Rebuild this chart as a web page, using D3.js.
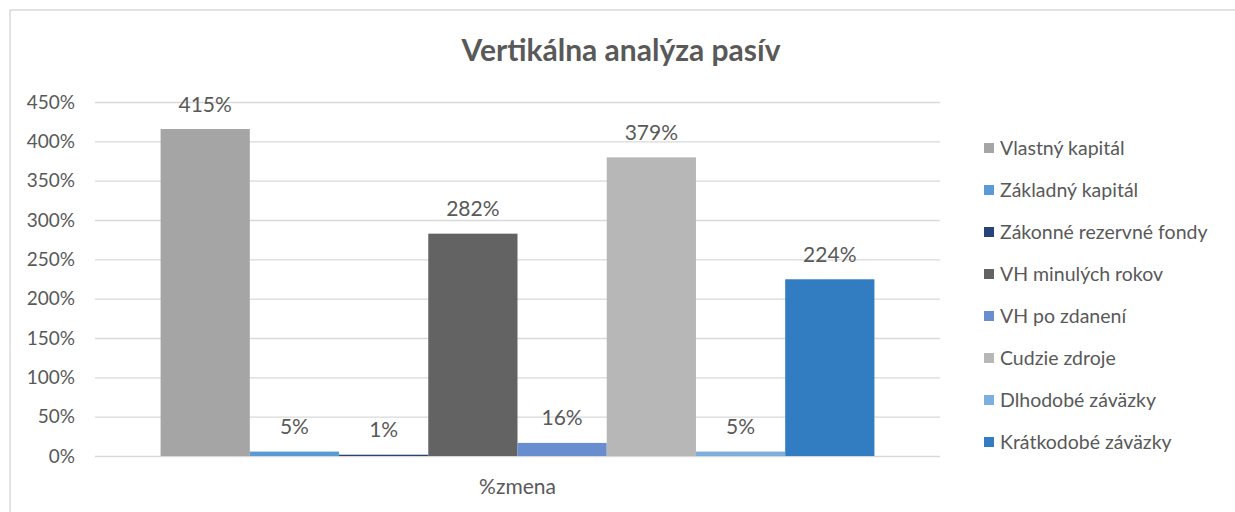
<!DOCTYPE html>
<html>
<head>
<meta charset="utf-8">
<script src="https://cdn.jsdelivr.net/npm/d3@7"></script>
<style>
  body { margin: 0; background: #fff; }
  svg { display: block; font-family: Lato, "Open Sans", sans-serif; }
</style>
</head>
<body>
<svg id="chart" width="1235" height="512"></svg>
<script>
// data
const categories = ["%zmena"]
const seriesNames = ["Vlastný kapitál", "Základný kapitál", "Zákonné rezervné fondy", "VH minulých rokov",
    "VH po zdanení", "Cudzie zdroje", "Dlhodobé záväzky", "Krátkodobé záväzky"]
const seriesValues = [4.15, 0.05, 0.01, 2.82, 0.16, 3.79, 0.05, 2.24]
const seriesColors = ["#a5a5a5", "#5b9bd5", "#264478", "#636363", "#698ed0", "#b7b7b7", "#7cafdd", "#327dc2"]
const yTicks = [0, 0.5, 1, 1.5, 2, 2.5, 3, 3.5, 4, 4.5]

const svg = d3.select("#chart")
const textColor = "#595959"

// chart frame (runs off the right and bottom edge in the original)
svg.append("rect")
    .attr("x", 10).attr("y", 10)
    .attr("width", 1260).attr("height", 540)
    .attr("fill", "#fff")
    .attr("stroke", "#d9d9d9")
    .attr("stroke-width", 1.5)

const plot = { left: 95, right: 940, top: 102, bottom: 456 }

const y = d3.scaleLinear().domain([0, 4.5]).range([plot.bottom, plot.top])
const x = d3.scaleBand().domain(categories).range([plot.left, plot.right])

// gap width ~147% like excel
const gap = 1.47
const barW = x.bandwidth() / (seriesNames.length + gap)
const xs = d3.scaleBand().domain(seriesNames)
    .range([barW * gap / 2, x.bandwidth() - barW * gap / 2])
    .padding(0)

const pct = d3.format(".0%")

// gridlines + y labels
const yAxis = d3.axisLeft(y).tickValues(yTicks).tickFormat(pct)
    .tickSize(-(plot.right - plot.left)).tickPadding(20)
const gy = svg.append("g")
    .attr("transform", `translate(${plot.left},0)`)
    .call(yAxis)
gy.select(".domain").remove()
gy.selectAll(".tick line").attr("stroke", "#d9d9d9").attr("stroke-width", 1.3)
gy.selectAll(".tick text")
    .attr("fill", textColor)
    .style("font-size", "19px")
    .style("font-family", "Lato, sans-serif")

// bars
const bars = svg.append("g")
seriesNames.forEach((name, i) => {
    const cx = x(categories[0]) + xs(name)
    bars.append("rect")
        .attr("x", cx)
        .attr("y", y(seriesValues[i]) - 0.5)
        .attr("width", xs.bandwidth())
        .attr("height", y(0) - y(seriesValues[i]) + 0.5)
        .attr("fill", seriesColors[i])

    bars.append("text")
        .attr("x", cx + xs.bandwidth() / 2)
        .attr("y", y(seriesValues[i]) - 18)
        .attr("text-anchor", "middle")
        .attr("fill", textColor)
        .style("font-size", "21px")
        .text(pct(seriesValues[i]))
})

// category label
svg.append("text")
    .attr("x", x(categories[0]) + x.bandwidth() / 2)
    .attr("y", 494)
    .attr("text-anchor", "middle")
    .attr("fill", textColor)
    .style("font-size", "21px")
    .text(categories[0])

// title
svg.append("text")
    .attr("x", 621).attr("y", 61)
    .attr("text-anchor", "middle")
    .attr("fill", textColor)
    .style("font-size", "30px")
    .style("font-weight", "bold")
    .text("Vertikálna analýza pasív")

// legend
const legend = svg.append("g").attr("transform", "translate(984,148)")
seriesNames.forEach((name, i) => {
    const row = legend.append("g").attr("transform", `translate(0,${i * 42})`)
    row.append("rect")
        .attr("x", 0).attr("y", -5)
        .attr("width", 10).attr("height", 10)
        .attr("fill", seriesColors[i])
    row.append("text")
        .attr("x", 16).attr("y", 6.5)
        .attr("fill", textColor)
        .style("font-size", "19.5px")
        .text(name)
})
</script>
</body>
</html>
